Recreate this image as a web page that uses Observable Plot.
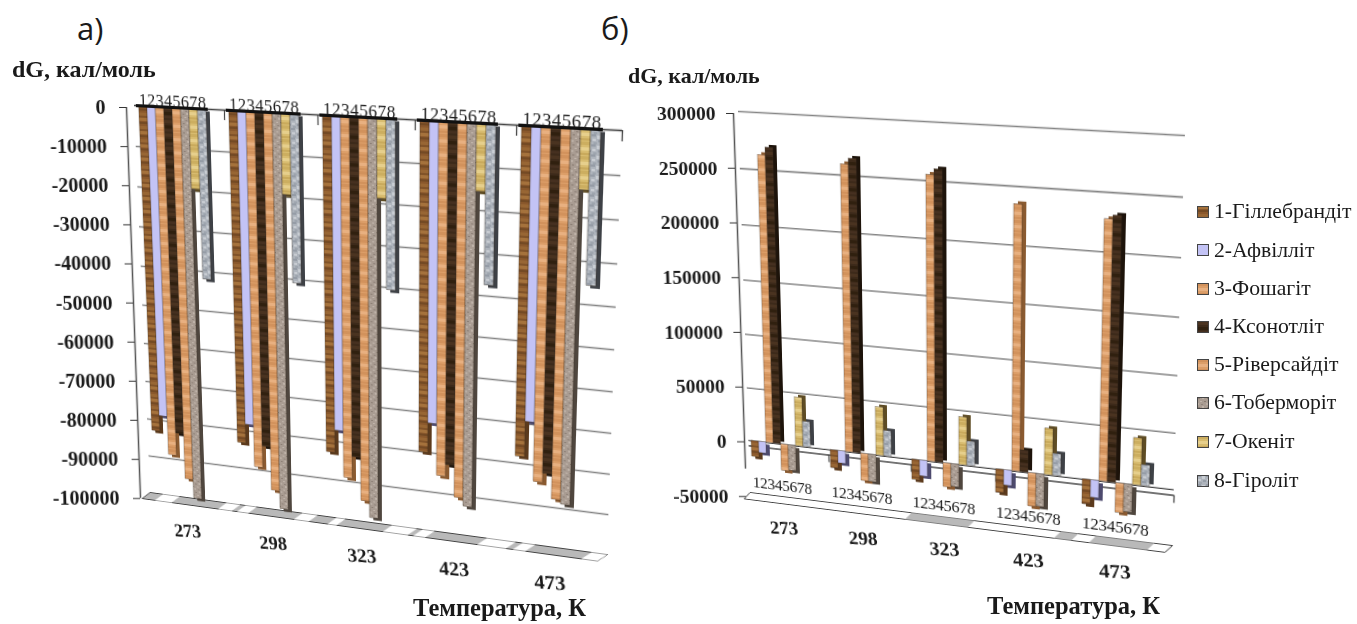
<!DOCTYPE html>
<html><head><meta charset="utf-8">
<script src="https://cdn.jsdelivr.net/npm/d3@7"></script>
<script src="https://cdn.jsdelivr.net/npm/@observablehq/plot@0.6"></script>
<style>
html,body{margin:0;padding:0;background:#fff;width:1357px;height:624px;overflow:hidden}
#page{position:relative;width:1357px;height:624px;overflow:hidden;font-family:"Liberation Serif",serif;color:#1a1a1a}
#page svg.plot{position:absolute;left:0;top:0;overflow:visible;background:transparent;filter:blur(.5px)}
.t{position:absolute;white-space:nowrap;line-height:1}
.b{font-weight:bold}
.leg{position:absolute;left:1197px;white-space:nowrap;font-size:21.7px;line-height:1;display:flex;align-items:center;gap:5px}
</style></head><body><div id="page"></div>
<script>
const temps=["273","298","323","423","473"];
const digits=["1","2","3","4","5","6","7","8"];
const minerals=["1-Гіллебрандіт","2-Афвілліт","3-Фошагіт","4-Ксонотліт","5-Ріверсайдіт","6-Тоберморіт","7-Океніт","8-Гіроліт"];
// panel а) dG values, series 1..8, one array per temperature
const a273=[-83000,-78800,-89000,-83000,-95000,-100000,-19700,-42000];
const a298=[-83400,-78400,-89300,-83600,-95000,-99700,-19500,-41000];
const a323=[-83000,-77200,-89200,-83500,-94700,-98800,-18900,-40700];
const a423=[-80100,-72600,-85700,-82600,-90700,-92700,-15700,-37500];
const a473=[-78300,-69500,-84200,-81800,-88000,-89000,-13800,-35600];
// panel б)
const b273=[-15000,-10600,263000,269800,-25000,-24000,46000,24000];
const b298=[-16800,-11500,259500,264600,-25500,-25500,45000,23800];
const b323=[-18600,-14500,255000,260000,-22000,-21000,44000,22600];
const b423=[-21400,-14000,235000,20000,-30500,-29800,42000,20100];
const b473=[-22400,-15700,227500,231000,-26500,-25000,42000,19000];
const aTicks=[0,-10000,-20000,-30000,-40000,-50000,-60000,-70000,-80000,-90000,-100000];
const bTicks=[300000,250000,200000,150000,100000,50000,0,-50000];
const aFloorWhite=[[.15,.35],[.9,1.06],[1.12,1.25],[1.77,1.94],[2.15,2.25],[2.76,3.03],[3.09,3.22],[3.77,4.07],[4.14,4.27],[4.84,5]];
const bFloorGrey=[[2.0,2.75],[3.75,3.95],[4.15,4.8]];
const groupEdges=[1,2,3,4,5];

const fills=["url(#p1)","url(#p2)","url(#p3)","url(#p4)","url(#p3)","url(#p6)","url(#p7)","url(#p8)"];
const sides=["#5c3a1c","#4d4a6e","#8a5a30","#1d130a","#8a5a30","#4f463e","#5e4c24","#3e4146"];
const font='"Liberation Serif",serif';
const page=document.getElementById("page");

// shared pattern textures
const defsSvg=d3.select(page).append("svg").attr("width",0).attr("height",0).style("position","absolute");
const defs=defsSvg.append("defs");
function stripes(id,base,bands){
  const p=defs.append("pattern").attr("id",id).attr("patternUnits","userSpaceOnUse").attr("width",24).attr("height",13);
  p.append("rect").attr("width",24).attr("height",13).attr("fill",base);
  bands.forEach(([y,h,c])=>p.append("rect").attr("y",y).attr("width",24).attr("height",h).attr("fill",c));
}
function speck(id,base,dots){
  const p=defs.append("pattern").attr("id",id).attr("patternUnits","userSpaceOnUse").attr("width",9).attr("height",9);
  p.append("rect").attr("width",9).attr("height",9).attr("fill",base);
  dots.forEach(([x,y,w,h,c])=>p.append("rect").attr("x",x).attr("y",y).attr("width",w).attr("height",h).attr("fill",c));
}
stripes("p1","#8a582c",[[0,3,"#a5723c"],[4,2,"#744a24"],[8,3,"#986634"],[11.5,1,"#784e26"]]);
stripes("p2","#c3c3f5",[]);
stripes("p3","#dc9e68",[[0,3,"#d2925c"],[5,3,"#e8b080"],[10,2,"#d2925c"]]);
stripes("p4","#3d2a1a",[[1,3,"#4a3320"],[6,3,"#30200f"],[10,2,"#463020"]]);
speck("p6","#a99c92",[[1,1,2,1,"#8d8076"],[5,0,2,2,"#bfb3a9"],[3,4,2,1,"#c2b6ac"],[7,4,2,1,"#877a70"],[0,6,2,2,"#baaea4"],[4,7,2,1,"#90837a"]]);
stripes("p7","#d8bc70",[[0,3,"#ccae60"],[5,3,"#e6cf8c"],[10,2,"#c9aa5c"]]);
speck("p8","#aeb4bc",[[0,0,4,2,"#959ca6"],[5,1,3,3,"#c9ced4"],[1,4,3,2,"#c8ccd2"],[6,5,3,2,"#979ea8"],[2,7,3,2,"#9ea5ae"]]);

function quadMatrix(fx,fy,w,h,q){
  const [[x0,y0],[x1,y1],[x2,y2],[x3,y3]]=q;
  const dx1=x1-x2,dx2=x3-x2,dx3=x0-x1+x2-x3,dy1=y1-y2,dy2=y3-y2,dy3=y0-y1+y2-y3;
  const den=dx1*dy2-dx2*dy1;
  const g=(dx3*dy2-dx2*dy3)/den,k=(dx1*dy3-dx3*dy1)/den;
  const a=x1-x0+g*x1,b=x3-x0+k*x3,d=y1-y0+g*y1,e=y3-y0+k*y3;
  const A=a/w,B=b/h,C=x0-A*fx-B*fy,D=d/w,E=e/h,F=y0-D*fx-E*fy,G=g/w,H=k/h,I=1-G*fx-H*fy;
  return `matrix3d(${[A,D,0,G,B,E,0,H,0,0,1,0,C,F,0,I].join(",")})`;
}
function polys(segs,v1,v2,s,prefix){
  return segs.flatMap(([a,b],i)=>[[a,v1],[b,v1],[b-s,v2],[a-s,v2]].map(([u,v])=>({u,v,k:prefix+i})));
}

function panel(cfg){
  const m={marginLeft:50,marginRight:50,marginTop:40,marginBottom:80};
  const width=cfg.W+100,height=cfg.H+120;
  const table=cfg.values.flatMap((arr,i)=>arr.map((v,j)=>({t:temps[i],s:digits[j],v})));
  const transform=quadMatrix(50,40,cfg.W,cfg.H,cfg.quad);

  const wall=Plot.plot({...m,width,height,
    style:{background:"transparent",fontFamily:font},
    x:{domain:[0,5],axis:null},y:{domain:cfg.domain,axis:null},
    marks:[
      Plot.ruleY(cfg.ticks.filter(d=>d!==cfg.domain[0]&&d!==0),{stroke:"#858585",strokeWidth:1.6}),
      Plot.ruleY(cfg.zeroLines,{stroke:"#444",strokeWidth:1.4}),
      Plot.ruleX(groupEdges,{y1:cfg.edgeTick[0],y2:cfg.edgeTick[1],stroke:"#444",strokeWidth:1.2}),
      ...cfg.floor()
    ]});
  const bars=digits.flatMap((s,i)=>{
    const rows=table.filter(d=>d.s===s);
    return [
      Plot.barY(rows.filter(d=>d.v<0),{fx:"t",x:"s",y:"v",fill:sides[i],dx:cfg.depth,dy:2.5}),
      Plot.barY(rows.filter(d=>d.v>0),{fx:"t",x:"s",y:"v",fill:sides[i],dx:cfg.depth,dy:-2.5}),
      Plot.barY(rows,{fx:"t",x:"s",y:"v",fill:fills[i],stroke:"#3b3026",strokeWidth:.35})
    ];
  });
  const front=Plot.plot({...m,width,height,
    style:{background:"transparent",fontFamily:font,color:"#1a1a1a"},
    fx:{domain:temps,padding:cfg.padding,paddingOuter:cfg.outer,align:cfg.align,axis:null},
    x:{domain:digits,padding:0,axis:null},y:{domain:cfg.domain,axis:null},
    marks:[
      ...bars,
      ...(cfg.topBar?[Plot.ruleY([0],{stroke:"#111",strokeWidth:3})]:[]),
      Plot.axisX({anchor:cfg.digitAnchor,tickSize:0,tickPadding:cfg.digitPad,fontSize:cfg.digitFont,label:null,fontVariant:"normal"}),
      Plot.axisFx({anchor:"bottom",tickSize:0,tickPadding:cfg.tempPad,fontSize:20.5,fontWeight:"bold",label:null,fontVariant:"normal",tickRotate:-5,textAnchor:"middle"})
    ]});
  [wall,front].forEach(s=>{
    s.classList.add("plot");
    s.style.transformOrigin="0 0";
    s.style.transform=transform;
    page.appendChild(s);
  });

  // upright value axis, leaning with the box's left edge
  const axis=Plot.plot({width:cfg.axisX+2,height:cfg.axisH+40,marginLeft:cfg.axisX,marginRight:2,marginTop:20,marginBottom:20,
    style:{background:"transparent",fontFamily:font,color:"#1a1a1a"},
    x:{axis:null,domain:[0,1]},
    y:{domain:cfg.domain,ticks:cfg.ticks,axis:null},
    marks:[
      Plot.ruleX([0],{y1:cfg.axisEnd,y2:cfg.domain[1],stroke:"#555",strokeWidth:1.5}),
      Plot.axisY(cfg.ticks,{anchor:"left",tickSize:7,tickPadding:cfg.axisPad,fontSize:cfg.axisFont,fontWeight:"bold",label:null,tickFormat:d=>String(d),stroke:"#333"})
    ]});
  axis.classList.add("plot");
  axis.style.top=(cfg.axisTop-20)+"px";
  axis.style.transformOrigin=`${cfg.axisX}px 20px`;
  axis.style.transform=`skewX(${cfg.axisSkew}deg)`;
  page.appendChild(axis);
}

panel({
  W:480,H:400,domain:[-100000,0],ticks:aTicks,values:[a273,a298,a323,a423,a473],
  quad:[[134,105],[622,130],[607,554],[150,492]],
  padding:.2,outer:.092,align:.12,depth:4,topBar:true,
  zeroLines:[0],edgeTick:[0,-2500],
  digitAnchor:"top",digitPad:1,digitFont:17,tempPad:29,
  axisX:126,axisH:391,axisTop:107,axisEnd:-100000,axisPad:14,axisFont:20,axisSkew:2.05,
  floor:()=>[
    Plot.line(polys([[0,5]],-100000,-102000,.1,"g"),{x:"u",y:"v",z:"k",fill:"#b9b9b9",stroke:"#444",strokeWidth:1,curve:"linear-closed"}),
    Plot.line(polys(aFloorWhite,-100000,-102000,.1,"w"),{x:"u",y:"v",z:"k",fill:"#fff",curve:"linear-closed",stroke:"none"})
  ]
});
panel({
  W:430,H:400,domain:[-50000,300000],ticks:bTicks,values:[b273,b298,b323,b423,b473],
  quad:[[738,111],[1185,135],[1172,545],[750,492]],
  padding:.22,outer:.12,align:.1,depth:4,topBar:false,
  zeroLines:[0,-5000],edgeTick:[-5000,-12000],
  digitAnchor:"bottom",digitPad:-18,digitFont:16.5,tempPad:27,
  axisX:733,axisH:383,axisTop:113,axisEnd:-25000,axisPad:11,axisFont:19.5,axisSkew:1.93,
  floor:()=>[
    Plot.line(polys([[0,5]],-50000,-57000,.08,"g"),{x:"u",y:"v",z:"k",fill:"#fff",stroke:"#444",strokeWidth:1,curve:"linear-closed"}),
    Plot.line(polys(bFloorGrey,-50000,-57000,.08,"w"),{x:"u",y:"v",z:"k",fill:"#b9b9b9",curve:"linear-closed",stroke:"none"})
  ]
});

// titles
function label(text,x,y,size,cls,family){
  const el=document.createElement("div");
  el.className="t "+(cls||"");el.textContent=text;
  el.style.left=x+"px";el.style.top=y+"px";el.style.fontSize=size+"px";
  if(family)el.style.fontFamily=family;
  page.appendChild(el);
}
label("а)",77,13,31,"",'"Open Sans",sans-serif');
label("б)",601,13,31,"",'"Open Sans",sans-serif');
label("dG, кал/моль",12,57,24,"b");
label("dG, кал/моль",628,65,22,"b");
label("Температура, К",413,596,24.5,"b");
label("Температура, К",987,594,24.5,"b");

// legend
const rowY=[213,251.5,290,328,366,404,443,482];
minerals.forEach((name,i)=>{
  const row=document.createElement("div");
  row.className="leg";row.style.top=(rowY[i]-12)+"px";
  row.innerHTML=`<svg width="12" height="12" style="flex:none"><rect x=".5" y=".5" width="11" height="11" fill="${fills[i]}" stroke="#444"/></svg><span>${name}</span>`;
  page.appendChild(row);
});
</script></body></html>
